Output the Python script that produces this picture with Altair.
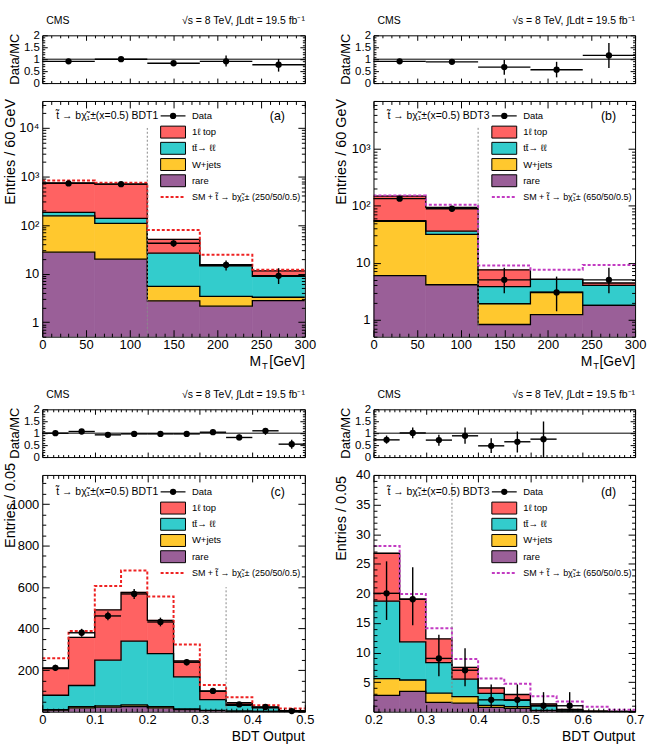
import altair as alt
import pandas as pd

FONT = "Liberation Sans"

# ---------------- panel (a): M_T, BDT1 ----------------
a_edges = [0, 60, 120, 180, 240, 300]
a_rare = [27.6, 19.9, 2.74, 2.13, 2.78]
a_wjets = [127.4, 88.1, 2.72, 1.27, 0.47]
a_ttll = [27.0, 29.0, 20.8, 11.1, 5.5]
a_top1l = [557.0, 558.0, 24.6, 0.7, 2.65]
a_sig_total = [830, 740, 79, 24.3, 12.0]
a_data = [720, 695, 42, 15, 9]
a_data_lo = [693, 669, 35.5, 11.6, 6.1]
a_data_hi = [747, 721, 48.5, 18.5, 12.9]
a_ratio = [0.91, 1.00, 0.83, 0.91, 0.77]
a_ratio_lo = [0.88, 0.97, 0.72, 0.69, 0.48]
a_ratio_hi = [0.94, 1.03, 0.94, 1.16, 1.01]

# ---------------- panel (b): M_T, BDT3 ----------------
b_edges = [0, 60, 120, 180, 240, 300]
b_rare = [5.95, 4.1, 0.82, 1.22, 1.78]
b_wjets = [47.6, 27.4, 1.08, 1.82, 0.0]
b_ttll = [1.4, 4.4, 1.9, 2.06, 2.22]
b_top1l = [94.0, 58.1, 3.7, 0.0, 0.4]
b_sig_total = [153, 105, 8.9, 7.5, 9.1]
b_data = [134, 89, 5, 3, 5]
b_data_lo = [123, 80, 2.9, 1.4, 2.9]
b_data_hi = [146, 99, 8.2, 5.7, 8.2]
b_ratio = [0.91, 0.89, 0.67, 0.56, 1.16]
b_ratio_lo = [0.84, 0.80, 0.35, 0.24, 0.63]
b_ratio_hi = [0.98, 0.98, 0.97, 0.89, 1.68]

# ---------------- panel (c): BDT output, BDT1 ----------------
c_edges = [0.0, 0.05, 0.1, 0.15, 0.2, 0.25, 0.3, 0.35, 0.4, 0.45, 0.5]
c_rare = [8, 18, 22, 25, 18, 10, 5, 2, 1, 0.5]
c_wjets = [2, 6, 6, 8, 6, 3, 1, 0.5, 0.3, 0.1]
c_ttll = [69, 102, 220, 307, 256, 155, 52, 27.5, 17.7, 2.4]
c_top1l = [128, 232, 242, 235, 160, 76, 40, 13, 2, 2.5]
c_sig_total = [257, 388, 605, 680, 555, 324, 128, 70, 31, 15]
c_data = [211, 380, 461, 567, 432, 238, 100, 35, 23, 3]
c_data_lo = [196, 361, 440, 543, 411, 223, 90, 29, 18, 1]
c_data_hi = [226, 399, 482, 591, 453, 253, 110, 41, 28, 5]
c_ratio = [1.00, 1.07, 0.93, 0.97, 0.97, 0.97, 1.04, 0.82, 1.10, 0.54]
c_ratio_lo = [0.93, 1.01, 0.88, 0.92, 0.92, 0.90, 0.94, 0.70, 0.93, 0.35]
c_ratio_hi = [1.07, 1.13, 0.98, 1.02, 1.02, 1.04, 1.14, 0.94, 1.21, 0.72]

# ---------------- panel (d): BDT output, BDT3 ----------------
d_edges = [0.2, 0.25, 0.3, 0.35, 0.4, 0.45, 0.5, 0.55, 0.6, 0.65, 0.7]
d_rare = [2.76, 3.43, 1.58, 1.46, 0.73, 0.56, 0.17, 0.05, 0.02, 0.01]
d_wjets = [2.81, 1.92, 1.57, 1.07, 0.34, 0.28, 0.05, 0.03, 0.01, 0.0]
d_ttll = [13.1, 6.45, 5.15, 2.97, 2.03, 1.06, 0.78, 0.2, 0.02, 0.02]
d_top1l = [8.1, 7.2, 4.0, 2.0, 0.9, 1.0, 0.3, 0.12, 0.05, 0.02]
d_sig_total = [28.0, 19.9, 14.1, 8.9, 5.6, 4.7, 2.6, 1.7, 0.84, 0.34]
d_data = [20, 19, 9, 7, 2, 2, 1, 1]
d_data_lo = [15.5, 14.6, 6.0, 4.3, 0.6, 0.6, 0.0, 0.0]
d_data_hi = [25.4, 24.4, 13.0, 10.7, 4.6, 4.6, 3.3, 3.3]
d_ratio = [0.72, 1.01, 0.71, 0.89, 0.47, 0.64, 0.75]
d_ratio_lo = [0.56, 0.79, 0.47, 0.56, 0.17, 0.19, 0.0]
d_ratio_hi = [0.90, 1.24, 0.93, 1.24, 0.79, 1.07, 1.49]

# ---------------- text ----------------
PROCS = ["rare", "wjets", "ttll", "top1l"]
PROC_COLORS = ["#9a5f98", "#ffc82e", "#33cccc", "#ff6262"]
LEG_LABELS = ["1ℓ top", "tt̄→ ℓℓ", "W+jets", "rare"]
LEG_COLORS = ["#ff6262", "#33cccc", "#ffc82e", "#9a5f98"]
CMS_TEXT = "CMS"
LUMI_TEXT = "√s = 8 TeV,  ∫Ldt = 19.5 fb⁻¹"
SIG_RED = "#ee2222"
SIG_MAG = "#c23bc2"

ONE = pd.DataFrame({"d": [0]})
PLAIN_LABEL = "'' + datum.value"


def txt(px, py, s, size, align="left", baseline="middle", angle=None, color="black"):
    kw = dict(align=align, baseline=baseline, fontSize=size, font=FONT, color=color, text=s)
    if angle is not None:
        kw["angle"] = angle
    return alt.Chart(ONE).mark_text(**kw).encode(x=alt.value(px), y=alt.value(py))


def ax(**kw):
    base = dict(title=None, grid=False, labels=False, zindex=2, domainColor="black",
                tickColor="black", domainWidth=1, tickWidth=1)
    base.update(kw)
    return alt.Axis(**base)


def frame_layers(xs, ys, xd, yd, w, H, top, xmaj, xmin, ymaj, ymin, tmaj, tmin):
    dummy = pd.DataFrame({"fx": [xd], "fy": [yd]})
    specs = [
        (ax(orient="top", offset=-H, values=xmaj, tickSize=tmaj, domain=True),
         ax(orient="right", offset=-w, values=ymaj, tickSize=tmaj, domain=True)),
        (ax(orient="bottom", offset=top - H, values=xmaj, tickSize=tmaj, domain=True),
         ax(orient="left", offset=-w, values=ymaj, tickSize=tmaj, domain=True)),
        (ax(orient="top", offset=-H, values=xmin, tickSize=tmin, domain=False),
         ax(orient="right", offset=-w, values=ymin, tickSize=tmin, domain=False)),
        (ax(orient="bottom", offset=top - H, values=xmin, tickSize=tmin, domain=False),
         ax(orient="left", offset=-w, values=ymin, tickSize=tmin, domain=False)),
    ]
    out = []
    for axx, axy in specs:
        out.append(alt.Chart(dummy).mark_point(opacity=0).encode(
            x=alt.X("fx:Q", scale=xs, axis=axx), y=alt.Y("fy:Q", scale=ys, axis=axy)))
    return out


def header(w, yoff):
    return [txt(4, yoff - 14, CMS_TEXT, 10.5), txt(w, yoff - 14, LUMI_TEXT, 10.5, align="right")]


def ratio_chart(edges, ratio, rlo, rhi, w, H, top, xmaj, xmin):
    xs = alt.Scale(domain=[edges[0], edges[-1]], nice=False, zero=False)
    ys = alt.Scale(domain=[0, 2], range=[H, top], nice=False, zero=False)
    n = len(ratio)
    centers = [(edges[i] + edges[i + 1]) / 2 for i in range(n)]
    df = pd.DataFrame({"xc": centers, "xlo": edges[:n], "xhi": edges[1:n + 1],
                       "r": ratio, "lo": rlo, "hi": rhi})
    one = pd.DataFrame({"x0": [edges[0]], "x1": [edges[-1]], "y": [1.0]})

    def X(f):
        return alt.X(f, type="quantitative", scale=xs, axis=None)

    def Y(f):
        return alt.Y(f, type="quantitative", scale=ys, axis=None)

    layers = [
        alt.Chart(one).mark_rule(color="black", strokeWidth=1).encode(x=X("x0"), x2="x1", y=Y("y")),
        alt.Chart(df).mark_rule(color="black", strokeWidth=1.4).encode(x=X("xc"), y=Y("lo"), y2="hi"),
        alt.Chart(df).mark_rule(color="black", strokeWidth=1.4).encode(x=X("xlo"), x2="xhi", y=Y("r")),
        alt.Chart(df).mark_circle(color="black", size=40, opacity=1).encode(x=X("xc"), y=Y("r")),
    ]
    dummy = pd.DataFrame({"fx": [edges[0]], "fy": [0.0]})
    layers.append(alt.Chart(dummy).mark_point(opacity=0).encode(
        x=alt.X("fx:Q", scale=xs, axis=None),
        y=alt.Y("fy:Q", scale=ys, axis=alt.Axis(
            orient="left", values=[0, 0.5, 1, 1.5, 2], labelExpr=PLAIN_LABEL, ticks=True, tickSize=0,
            domain=False, labelPadding=3, labelFontSize=11.5, labelFont=FONT, labelColor="black",
            title=None, grid=False, labelFlush=False, labelOverlap=False))))
    ymin = [v / 10 for v in range(0, 21) if v % 5]
    layers += frame_layers(xs, ys, edges[0], 0.0, w, H, top, xmaj, xmin,
                           [0, 0.5, 1, 1.5, 2], ymin, 5, 2.5)
    layers += header(w, top)
    layers.append(txt(-27.5, top + (H - top) / 2, "Data/MC", 13, align="center", angle=270))
    return alt.layer(*layers).resolve_axis(x="independent", y="independent").properties(
        width=w, height=H)


def main_chart(edges, comps, sig, sig_color, sig_label, data, dlo, dhi, ydom, log, ylab_vals,
               ymaj, ymin, w, h, xmaj, xmin, tag, bdt, cut, cut_top, ytitle, ytitle_top,
               xtitle, leg_y0):
    xs = alt.Scale(domain=[edges[0], edges[-1]], nice=False, zero=False)
    if log:
        ys = alt.Scale(type="log", domain=ydom, nice=False)
    else:
        ys = alt.Scale(domain=ydom, nice=False, zero=False)
    base = ydom[0]
    nb = len(edges) - 1

    def X(f):
        return alt.X(f, type="quantitative", scale=xs, axis=None)

    def Y(f):
        return alt.Y(f, type="quantitative", scale=ys, axis=None)

    rect_rows, step_rows = [], []
    cum = [0.0] * nb
    for p, vals in zip(PROCS, comps):
        new = [c + v for c, v in zip(cum, vals)]
        for i in range(nb):
            rect_rows.append({"lo": edges[i], "hi": edges[i + 1],
                              "y0": max(cum[i], base), "y1": max(new[i], base), "proc": p})
            step_rows.append({"x": edges[i], "y": max(new[i], base), "proc": p, "k": 2 * i})
            step_rows.append({"x": edges[i + 1], "y": max(new[i], base), "proc": p, "k": 2 * i + 1})
        cum = new
    rect_df = pd.DataFrame(rect_rows)
    step_df = pd.DataFrame(step_rows)
    sig_rows = []
    for i in range(nb):
        sig_rows.append({"x": edges[i], "y": sig[i], "k": 2 * i})
        sig_rows.append({"x": edges[i + 1], "y": sig[i], "k": 2 * i + 1})
    sig_df = pd.DataFrame(sig_rows)
    nd = len(data)
    ddf = pd.DataFrame({"xc": [(edges[i] + edges[i + 1]) / 2 for i in range(nd)],
                        "xlo": edges[:nd], "xhi": edges[1:nd + 1],
                        "v": data, "lo": dlo, "hi": dhi})
    cut_df = pd.DataFrame({"x": [cut], "y": [base], "y2": [cut_top]})
    proc_scale = alt.Scale(domain=PROCS, range=PROC_COLORS)

    layers = [
        alt.Chart(rect_df).mark_rect(clip=True, strokeWidth=0.7).encode(
            x=X("lo"), x2="hi", y=Y("y0"), y2="y1",
            color=alt.Color("proc:N", scale=proc_scale, legend=None),
            stroke=alt.Stroke("proc:N", scale=proc_scale, legend=None)),
        alt.Chart(step_df).mark_line(color="black", strokeWidth=1.3, clip=True).encode(
            x=X("x"), y=Y("y"), detail="proc:N", order="k:Q"),
        alt.Chart(sig_df).mark_line(color=sig_color, strokeWidth=2, strokeDash=[3, 2], clip=True).encode(
            x=X("x"), y=Y("y"), order="k:Q"),
        alt.Chart(cut_df).mark_rule(color="#888888", strokeWidth=1, strokeDash=[2, 2]).encode(
            x=X("x"), y=Y("y"), y2="y2"),
        alt.Chart(ddf).mark_rule(color="black", strokeWidth=1.4).encode(x=X("xc"), y=Y("lo"), y2="hi"),
        alt.Chart(ddf).mark_rule(color="black", strokeWidth=1.4).encode(x=X("xlo"), x2="xhi", y=Y("v")),
        alt.Chart(ddf).mark_circle(color="black", size=40, opacity=1).encode(x=X("xc"), y=Y("v")),
    ]
    # legend
    lx0, lx1, ltx = 119, 144, 150.5
    step = 16.3
    layers.append(alt.Chart(ONE).mark_rule(color="black", strokeWidth=1.2).encode(
        x=alt.value(lx0), x2=alt.value(lx1), y=alt.value(leg_y0)))
    layers.append(alt.Chart(ONE).mark_circle(color="black", size=40, opacity=1).encode(
        x=alt.value((lx0 + lx1) / 2), y=alt.value(leg_y0)))
    layers.append(txt(ltx, leg_y0, "Data", 9.5))
    for j, (lab, col) in enumerate(zip(LEG_LABELS, LEG_COLORS)):
        yc = leg_y0 + step * (j + 1)
        layers.append(alt.Chart(ONE).mark_rect(fill=col, stroke="black", strokeWidth=1).encode(
            x=alt.value(lx0), x2=alt.value(lx1), y=alt.value(yc - 6), y2=alt.value(yc + 6)))
        layers.append(txt(ltx, yc, lab, 9.5))
    ys5 = leg_y0 + step * 5
    layers.append(alt.Chart(ONE).mark_rule(color=sig_color, strokeWidth=2, strokeDash=[3, 2]).encode(
        x=alt.value(lx0), x2=alt.value(lx1), y=alt.value(ys5)))
    layers.append(txt(ltx, ys5, sig_label, 9))
    layers.append(txt(14, leg_y0, "t̃ → bχ̃₁±(x=0.5) " + bdt, 10.5))
    layers.append(txt(244, leg_y0, tag, 12.5, align="right"))

    # label axes
    dummy = pd.DataFrame({"fx": [edges[0]], "fy": [ydom[0]]})
    yax = dict(orient="left", values=ylab_vals, ticks=True, tickSize=0, domain=False,
               labelPadding=3.5, labelFontSize=13, labelFont=FONT, labelColor="black",
               title=None, grid=False, labelFlush=False, labelOverlap=False)
    if log:
        yax["labelExpr"] = ("datum.value >= 9999 ? '10⁴' : datum.value >= 999 ? '10³' : "
                            "datum.value >= 99 ? '10²' : datum.value >= 9 ? '10' : '1'")
    else:
        yax["labelExpr"] = PLAIN_LABEL
    layers.append(alt.Chart(dummy).mark_point(opacity=0).encode(
        x=alt.X("fx:Q", scale=xs, axis=alt.Axis(
            orient="bottom", values=xmaj, labelExpr=PLAIN_LABEL, ticks=True, tickSize=0, domain=False,
            labelPadding=2, labelFontSize=13, labelFont=FONT, labelColor="black",
            title=None, grid=False, labelFlush=False, labelOverlap=False)),
        y=alt.Y("fy:Q", scale=ys, axis=alt.Axis(**yax))))
    layers += frame_layers(xs, ys, edges[0], ydom[0], w, h, 0, xmaj, xmin, ymaj, ymin, 7, 3.5)
    # axis titles
    layers.append(txt(-31.5, ytitle_top, ytitle, 14.5, align="right", angle=270))
    if xtitle == "MT":
        layers.append(txt(220, h + 29, "M", 14, align="right", baseline="alphabetic"))
        layers.append(txt(221, h + 32, "T", 9.5, align="left", baseline="alphabetic"))
        layers.append(txt(w, h + 29, "[GeV]", 14, align="right", baseline="alphabetic"))
    else:
        layers.append(txt(w, h + 29, xtitle, 14, align="right", baseline="alphabetic"))
    return alt.layer(*layers).resolve_axis(x="independent", y="independent").properties(
        width=w, height=h)


def log_minor(lo, hi):
    out = []
    for k in range(-1, 6):
        for m in range(2, 10):
            v = m * 10 ** k
            if lo <= v <= hi:
                out.append(v)
    return out


mt_maj = [0, 50, 100, 150, 200, 250, 300]
mt_min = [v for v in range(0, 301, 10) if v % 50]
c_maj = [0, 0.1, 0.2, 0.3, 0.4, 0.5]
c_min = [round(i * 0.01, 3) for i in range(0, 51) if i % 10]
d_maj = [0.2, 0.3, 0.4, 0.5, 0.6, 0.7]
d_min = [round(i * 0.01, 3) for i in range(20, 71) if i % 10]

W1, W2 = 264, 263
RH, RHX = 48, 103
MH1, MH2 = 237, 238

ra = ratio_chart(a_edges, a_ratio, a_ratio_lo, a_ratio_hi, W1, RH, 0, mt_maj, mt_min)
rb = ratio_chart(b_edges, b_ratio, b_ratio_lo, b_ratio_hi, W2, RH, 0, mt_maj, mt_min)
rc = ratio_chart(c_edges, c_ratio, c_ratio_lo, c_ratio_hi, W1, RHX, RHX - RH, c_maj, c_min)
rd = ratio_chart(d_edges, d_ratio, d_ratio_lo, d_ratio_hi, W2, RHX, RHX - RH, d_maj, d_min)

ma = main_chart(a_edges, [a_rare, a_wjets, a_ttll, a_top1l], a_sig_total, SIG_RED,
                "SM + t̃ → bχ̃₁± (250/50/0.5)", a_data, a_data_lo, a_data_hi,
                [0.5, 36000], True, [1, 10, 100, 1000, 10000], [1, 10, 100, 1000, 10000],
                log_minor(0.5, 36000), W1, MH1, mt_maj, mt_min, "(a)", "BDT1", 120, 10000,
                "Entries /  60 GeV", -2, "MT", 15)
mb = main_chart(b_edges, [b_rare, b_wjets, b_ttll, b_top1l], b_sig_total, SIG_MAG,
                "SM + t̃ → bχ̃₁± (650/50/0.5)", b_data, b_data_lo, b_data_hi,
                [0.5, 7000], True, [1, 10, 100, 1000], [1, 10, 100, 1000],
                log_minor(0.5, 7000), W2, MH1, mt_maj, mt_min, "(b)", "BDT3", 120, 2560,
                "Entries /  60 GeV", -2, "MT", 15)
mc = main_chart(c_edges, [c_rare, c_wjets, c_ttll, c_top1l], c_sig_total, SIG_RED,
                "SM + t̃ → bχ̃₁± (250/50/0.5)", c_data, c_data_lo, c_data_hi,
                [0, 1140], False, [200, 400, 600, 800, 1000], [0, 200, 400, 600, 800, 1000],
                [v for v in range(0, 1141, 50) if v % 200], W1, MH2, c_maj, c_min, "(c)", "BDT1",
                0.35, 600, "Entries / 0.05", -12, "BDT Output", 17)
md = main_chart(d_edges, [d_rare, d_wjets, d_ttll, d_top1l], d_sig_total, SIG_MAG,
                "SM + t̃ → bχ̃₁± (650/50/0.5)", d_data, d_data_lo, d_data_hi,
                [0, 40], False, [5, 10, 15, 20, 25, 30, 35, 40], [0, 5, 10, 15, 20, 25, 30, 35, 40],
                [v for v in range(0, 41) if v % 5], W2, MH2, d_maj, d_min, "(d)", "BDT3",
                0.35, 39, "Entries / 0.05", 1, "BDT Output", 17)

chart = alt.ConcatChart(
    concat=[ra, rb, ma, mb, rc, rd, mc, md],
    columns=2,
    spacing={"row": 18, "column": 69},
    bounds="flush",
).properties(
    padding={"left": 2.5, "top": 14.5, "right": 2, "bottom": 2},
    background="white",
).configure_view(strokeWidth=0)

chart.save("out.html", embed_options={"renderer": "svg", "actions": False})
